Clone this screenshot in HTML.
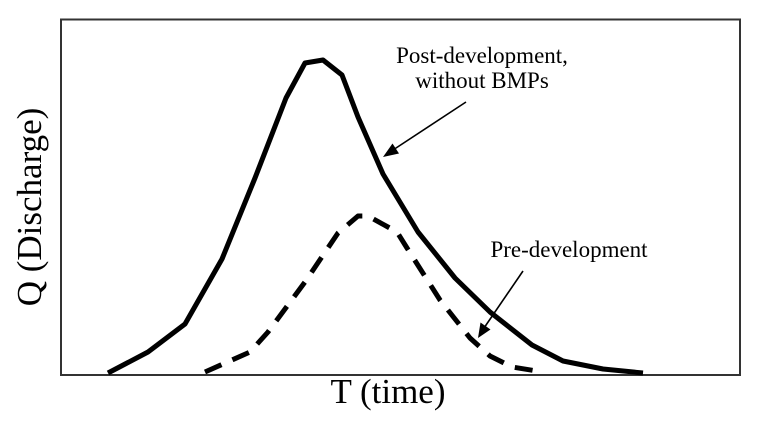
<!DOCTYPE html>
<html>
<head>
<meta charset="utf-8">
<style>
  html, body { margin: 0; padding: 0; background: #ffffff; }
  svg { display: block; }
  text { font-family: "Liberation Serif", "Times New Roman", serif; fill: #000; }
</style>
</head>
<body>
<svg width="757" height="434" viewBox="0 0 757 434" xmlns="http://www.w3.org/2000/svg">
  <rect x="0" y="0" width="757" height="434" fill="#ffffff"/>
  <!-- plot frame -->
  <rect x="61" y="19.5" width="679" height="355.5" fill="none" stroke="#333333" stroke-width="2"/>

  <!-- post-development (solid) -->
  <polyline fill="none" stroke="#000" stroke-width="5" stroke-linejoin="round"
    points="108,373 148,352 185,324 222,259 255,178 286,98 305,63 323,60 342,75 358,117 383,174 418,232 455,278 490,312 532,345 563,361 603,369 643,373"/>

  <!-- pre-development (dashed) -->
  <polyline fill="none" stroke="#000" stroke-width="5" stroke-linejoin="round" stroke-dasharray="18 12"
    points="205,372 250,352 268,332 305,282 338,233 358,216 368,216 397,232 407,248 440,300 470,338 490,356 512,367 543,372"/>

  <!-- arrows -->
  <line x1="466" y1="102" x2="393" y2="150" stroke="#000" stroke-width="1.6"/>
  <polygon points="383,157 392.5,143.5 399,153.5" fill="#000"/>
  <line x1="523" y1="271" x2="484" y2="328" stroke="#000" stroke-width="1.6"/>
  <polygon points="478,338 480.5,322.5 490.5,329.5" fill="#000"/>

  <!-- labels -->
  <text x="482" y="63" font-size="23" text-anchor="middle">Post-development,</text>
  <text x="482" y="88" font-size="23" text-anchor="middle">without BMPs</text>
  <text x="569" y="257" font-size="23" text-anchor="middle">Pre-development</text>

  <text x="388" y="403" font-size="35" text-anchor="middle">T (time)</text>
  <text transform="translate(41,207) rotate(-90)" font-size="35" text-anchor="middle">Q (Discharge)</text>
</svg>
</body>
</html>
